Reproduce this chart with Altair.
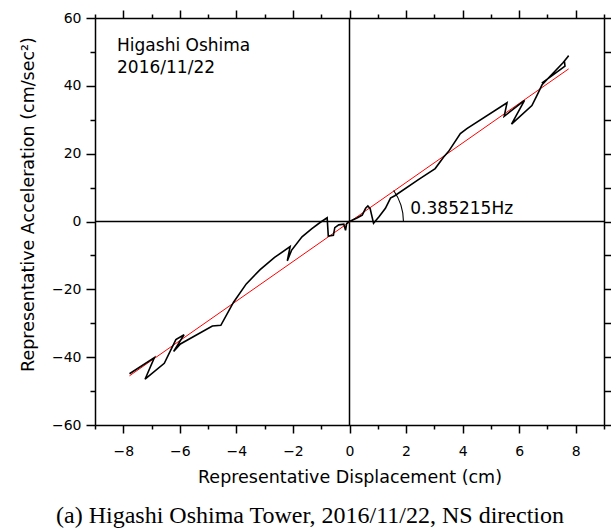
import altair as alt
import pandas as pd

# ---- data ----
disp = [-7.78, -6.90, -7.23, -6.55, -6.14, -5.85, -6.22, -5.98, -4.85, -4.55,
        -4.10, -3.65, -3.16, -2.65, -2.10, -2.20, -2.05, -1.68, -1.33, -1.04,
        -0.79, -0.75, -0.57, -0.52, -0.38, -0.20, -0.14, -0.10, 0.02, 0.28,
        0.45, 0.57, 0.65, 0.73, 0.85, 1.05, 1.27, 1.45, 1.60, 2.45,
        3.03, 3.33, 3.50, 3.92, 4.15, 5.57, 5.47, 6.12, 6.19, 5.73,
        6.45, 6.63, 6.81, 7.55, 7.75, 7.60, 7.62, 6.80]
acc = [-44.9, -40.1, -46.5, -41.8, -34.8, -33.4, -38.3, -36.1, -30.8, -30.6,
       -23.8, -18.4, -14.2, -10.6, -7.4, -11.6, -8.5, -4.5, -2.1, -0.3,
       1.1, -4.3, -4.1, -1.8, -1.0, -0.8, -2.6, -0.6, 0.1, 1.1,
       1.9, 3.9, 4.6, 3.8, -0.5, 1.5, 3.9, 6.9, 7.6, 12.4,
       15.6, 19.0, 20.6, 25.9, 27.4, 35.0, 31.0, 35.3, 35.7, 28.7,
       34.2, 37.2, 40.3, 46.8, 48.9, 47.3, 45.8, 40.8]
fit_disp = [-7.78, 7.75]
fit_acc = [-45.5, 45.0]
freq_hz = 0.385215
freq_label = "0.385215Hz"
site_lines = ["Higashi Oshima", "2016/11/22"]
caption = "(a) Higashi Oshima Tower, 2016/11/22, NS direction"
x_ticks = list(range(-9, 10))
y_ticks = list(range(-60, 61, 10))
x_title = "Representative Displacement (cm)"
y_title = "Representative Acceleration (cm/sec\u00b2)"

curve = pd.DataFrame({"d": disp, "a": acc, "order": list(range(len(disp)))})
fit = pd.DataFrame({"d": fit_disp, "a": fit_acc})

FONT = "DejaVu Sans"
W, H = 509, 407
XD, YD = [-9, 9], [-60, 60]
xscale = alt.Scale(domain=XD, nice=False, zero=False)
yscale = alt.Scale(domain=YD, nice=False, zero=False)

x_tick_size = {"condition": {"test": "datum.value % 2 === 0", "value": 8}, "value": 4}
y_tick_size = {"condition": {"test": "datum.value % 20 === 0", "value": 9}, "value": 5}

common = dict(grid=False, domainColor="black", domainWidth=1.5, tickColor="black",
              tickWidth=1.5, labelColor="black", labelFont=FONT, labelFontSize=14,
              titleColor="black", titleFont=FONT, titleFontSize=17.5,
              titleFontWeight="normal")

bottom_axis = alt.Axis(orient="bottom", values=x_ticks, tickSize=x_tick_size,
                       labelExpr="datum.value % 2 === 0 && abs(datum.value) < 9 ? datum.label : ''",
                       labelPadding=11, title=x_title, titleBaseline="alphabetic",
                       titleY=57, **common)
left_axis = alt.Axis(orient="left", values=y_ticks, tickSize=y_tick_size,
                     labelExpr="datum.value % 20 === 0 ? datum.label : ''",
                     labelPadding=5, title=y_title, titleBaseline="alphabetic",
                     titleX=-62, titleY=186, **common)
top_axis = alt.Axis(orient="top", values=x_ticks, tickSize=x_tick_size,
                    labels=False, title=None, **common)
right_axis = alt.Axis(orient="right", values=y_ticks, tickSize=8,
                      labels=False, title=None, **common)

# black hysteresis curve (carries bottom/left axes)
curve_layer = alt.Chart(curve).mark_line(color="black", strokeWidth=1.6).encode(
    x=alt.X("d:Q", scale=xscale, axis=bottom_axis),
    y=alt.Y("a:Q", scale=yscale, axis=left_axis),
    order="order:Q",
)

# red fitted stiffness line
fit_layer = alt.Chart(fit).mark_line(color="#ff0000", strokeWidth=1).encode(
    x=alt.X("d:Q", scale=xscale, axis=None),
    y=alt.Y("a:Q", scale=yscale, axis=None),
)

# zero lines (carry top/right axes)
vzero = alt.Chart().mark_rule(color="black", strokeWidth=1.5).encode(
    x=alt.XDatum(0, type="quantitative", scale=xscale, axis=top_axis),
)
hzero = alt.Chart().mark_rule(color="black", strokeWidth=1.5).encode(
    y=alt.YDatum(0, type="quantitative", scale=yscale, axis=right_axis),
)

# angle arc between x-axis and fit line
import math
k = (2 * math.pi * freq_hz) ** 2
ang = math.atan(k * (H / (YD[1] - YD[0])) / (W / (XD[1] - XD[0])))
arc = alt.Chart().mark_arc(color="black", theta=math.pi / 2 - ang, theta2=math.pi / 2,
                           radius=54.5, radius2=53.4).encode(
    x=alt.XDatum(0, type="quantitative", scale=xscale, axis=None),
    y=alt.YDatum(0, type="quantitative", scale=yscale, axis=None),
)

site_text = alt.Chart().mark_text(align="left", baseline="alphabetic", font=FONT,
                                  fontSize=17, lineHeight=22.7, color="black").encode(
    x=alt.XDatum(-8.22, type="quantitative", scale=xscale, axis=None),
    y=alt.YDatum(50.4, type="quantitative", scale=yscale, axis=None),
    text=alt.value(site_lines),
)
freq_text = alt.Chart().mark_text(align="left", baseline="alphabetic", font=FONT,
                                  fontSize=17, color="black").encode(
    x=alt.XDatum(2.15, type="quantitative", scale=xscale, axis=None),
    y=alt.YDatum(2.15, type="quantitative", scale=yscale, axis=None),
    text=alt.value(freq_label),
)
cap_text = alt.Chart().mark_text(align="center", baseline="alphabetic",
                                 font="Liberation Serif", fontSize=24, color="black").encode(
    x=alt.value(215), y=alt.value(505),
    text=alt.value(caption),
)

chart = alt.layer(
    vzero, hzero, fit_layer, curve_layer, arc, site_text, freq_text, cap_text
).resolve_axis(x="independent", y="independent").properties(
    width=W, height=H,
    autosize=alt.AutoSizeParams(type="none"),
    padding={"left": 95, "top": 18, "right": 7, "bottom": 104},
).configure_view(stroke=None).configure(background="white")

chart.save("out.html", embed_options={"renderer": "svg", "actions": False})
